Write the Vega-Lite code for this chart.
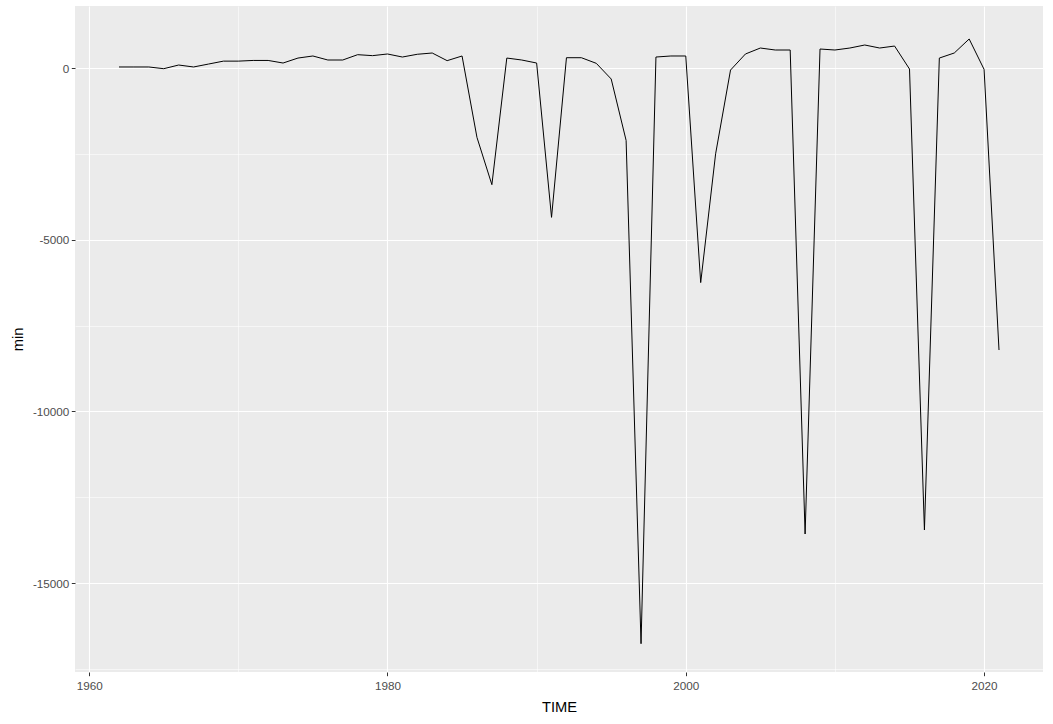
{
  "$schema": "https://vega.github.io/schema/vega-lite/v6.json",
  "autosize": "none",
  "width": 968,
  "height": 666,
  "padding": {"left": 75, "top": 6, "right": 10, "bottom": 52},
  "background": "white",
  "config": {
    "view": {"fill": "#EBEBEB", "stroke": null},
    "font": "Liberation Sans"
  },
  "data": {
    "values": [
      {"TIME": 1962, "min": 30},
      {"TIME": 1963, "min": 30},
      {"TIME": 1964, "min": 30},
      {"TIME": 1965, "min": -20},
      {"TIME": 1966, "min": 87},
      {"TIME": 1967, "min": 30},
      {"TIME": 1968, "min": 115},
      {"TIME": 1969, "min": 200},
      {"TIME": 1970, "min": 200},
      {"TIME": 1971, "min": 220},
      {"TIME": 1972, "min": 220},
      {"TIME": 1973, "min": 145},
      {"TIME": 1974, "min": 290},
      {"TIME": 1975, "min": 350},
      {"TIME": 1976, "min": 233},
      {"TIME": 1977, "min": 233},
      {"TIME": 1978, "min": 388},
      {"TIME": 1979, "min": 360},
      {"TIME": 1980, "min": 408},
      {"TIME": 1981, "min": 320},
      {"TIME": 1982, "min": 400},
      {"TIME": 1983, "min": 437},
      {"TIME": 1984, "min": 214},
      {"TIME": 1985, "min": 350},
      {"TIME": 1986, "min": -2020},
      {"TIME": 1987, "min": -3398},
      {"TIME": 1988, "min": 290},
      {"TIME": 1989, "min": 233},
      {"TIME": 1990, "min": 145},
      {"TIME": 1991, "min": -4350},
      {"TIME": 1992, "min": 300},
      {"TIME": 1993, "min": 300},
      {"TIME": 1994, "min": 136},
      {"TIME": 1995, "min": -320},
      {"TIME": 1996, "min": -2110},
      {"TIME": 1997, "min": -16768},
      {"TIME": 1998, "min": 320},
      {"TIME": 1999, "min": 350},
      {"TIME": 2000, "min": 350},
      {"TIME": 2001, "min": -6250},
      {"TIME": 2002, "min": -2500},
      {"TIME": 2003, "min": -60},
      {"TIME": 2004, "min": 408},
      {"TIME": 2005, "min": 582},
      {"TIME": 2006, "min": 524},
      {"TIME": 2007, "min": 524},
      {"TIME": 2008, "min": -13573},
      {"TIME": 2009, "min": 553},
      {"TIME": 2010, "min": 524},
      {"TIME": 2011, "min": 582},
      {"TIME": 2012, "min": 670},
      {"TIME": 2013, "min": 582},
      {"TIME": 2014, "min": 640},
      {"TIME": 2015, "min": -30},
      {"TIME": 2016, "min": -13456},
      {"TIME": 2017, "min": 290},
      {"TIME": 2018, "min": 437},
      {"TIME": 2019, "min": 845},
      {"TIME": 2020, "min": -40},
      {"TIME": 2021, "min": -8214}
    ]
  },
  "mark": {"type": "line", "color": "black", "strokeWidth": 1, "clip": true},
  "encoding": {
    "x": {
      "field": "TIME",
      "type": "quantitative",
      "scale": {"domain": [1959.05, 2023.95], "nice": false, "zero": false},
      "axis": {
        "values": [1960, 1970, 1980, 1990, 2000, 2010, 2020],
        "labelExpr": "datum.value % 20 === 0 ? toString(datum.value) : ''",
        "grid": true,
        "gridColor": "white",
        "gridOpacity": 1,
        "gridWidth": {"condition": {"test": "datum.value % 20 === 0", "value": 1.1}, "value": 0.55},
        "domain": false,
        "ticks": true,
        "tickColor": "#333333",
        "tickSize": 3.7,
        "tickWidth": 1,
        "tickOpacity": {"condition": {"test": "datum.value % 20 === 0", "value": 1}, "value": 0},
        "labelColor": "#4D4D4D",
        "labelFontSize": 11.7,
        "labelPadding": 4.5,
        "labelFlush": false,
        "labelOverlap": false,
        "title": "TIME",
        "titleFontSize": 14.7,
        "titleFontWeight": "normal",
        "titleColor": "black",
        "titlePadding": 8
      }
    },
    "y": {
      "field": "min",
      "type": "quantitative",
      "scale": {"domain": [-17592, 1806], "nice": false, "zero": false},
      "axis": {
        "values": [-17500, -15000, -12500, -10000, -7500, -5000, -2500, 0],
        "labelExpr": "datum.value % 5000 === 0 ? toString(datum.value) : ''",
        "grid": true,
        "gridColor": "white",
        "gridOpacity": 1,
        "gridWidth": {"condition": {"test": "datum.value % 5000 === 0", "value": 1.1}, "value": 0.55},
        "domain": false,
        "ticks": true,
        "tickColor": "#333333",
        "tickSize": 3.7,
        "tickWidth": 1,
        "tickOpacity": {"condition": {"test": "datum.value % 5000 === 0", "value": 1}, "value": 0},
        "labelColor": "#4D4D4D",
        "labelFontSize": 11.7,
        "labelPadding": 2.5,
        "labelFlush": false,
        "labelOverlap": false,
        "title": "min",
        "titleFontSize": 14.7,
        "titleFontWeight": "normal",
        "titleColor": "black",
        "titlePadding": 7
      }
    }
  }
}
